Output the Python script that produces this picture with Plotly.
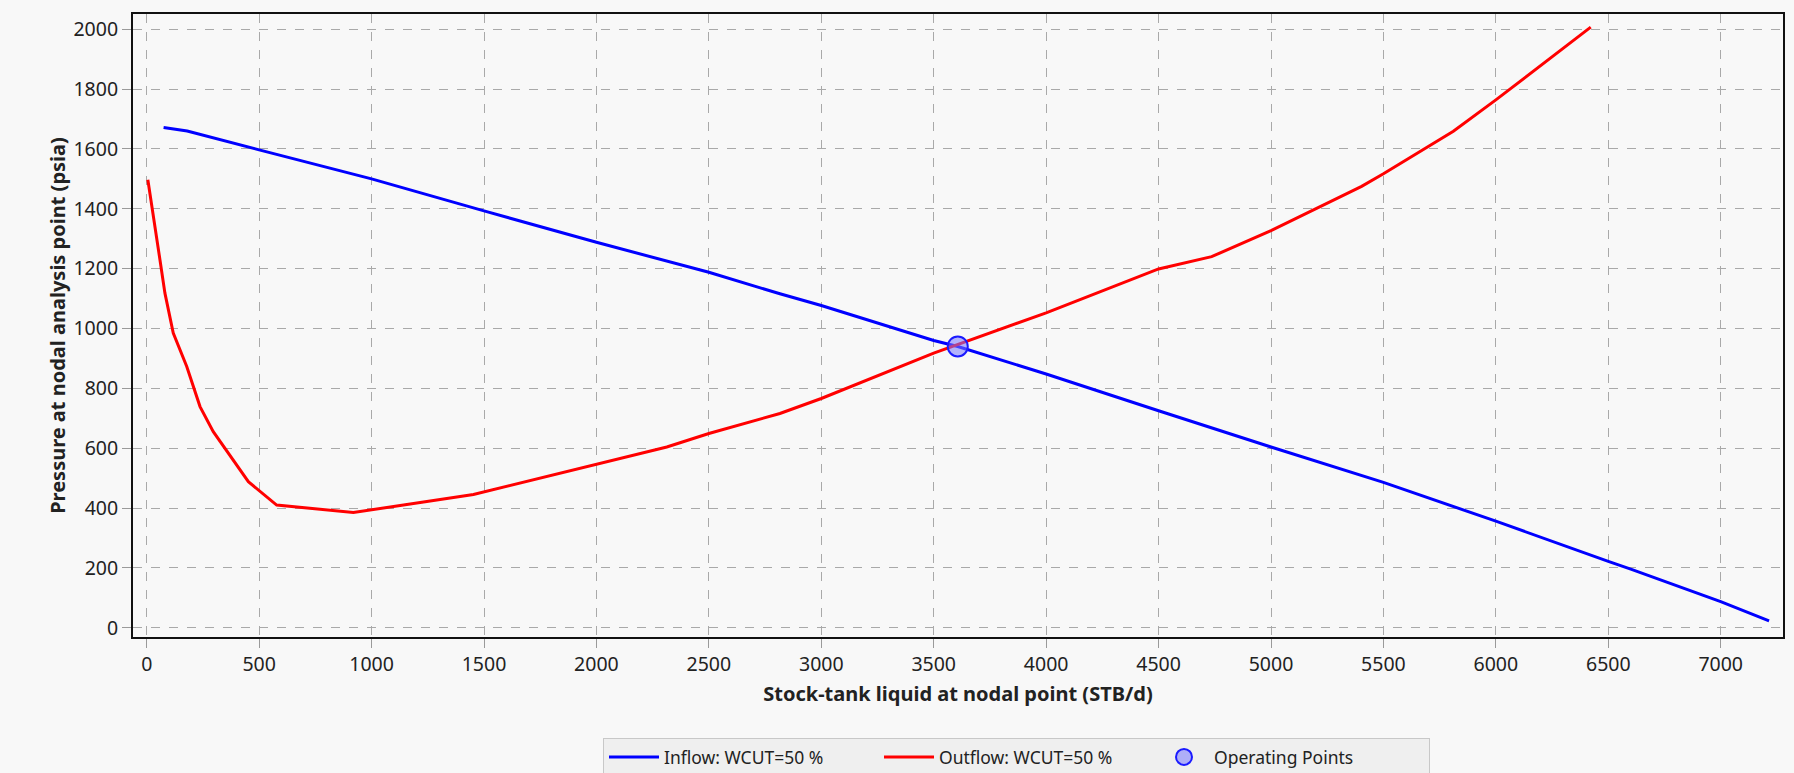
import plotly.graph_objects as go

# Inflow curve (blue)
inflow_q = [75, 180, 500, 1000, 1500, 2000, 2500, 2816, 3000, 3500, 3607, 4000, 4500, 5000, 5500, 6000, 6500, 6600, 7000, 7215]
inflow_p = [1672, 1660, 1597, 1500, 1393, 1288, 1188, 1116, 1077, 960, 940, 848, 725, 604, 486, 356, 222, 196, 87, 23]

# Outflow curve (red)
outflow_q = [5, 22, 59, 81, 118, 178, 237, 296, 452, 578, 919, 1453, 2000, 2313, 2500, 2816, 3000, 3500, 4000, 4500, 4736, 5000, 5403, 5500, 5811, 6000, 6422]
outflow_p = [1497, 1408, 1229, 1118, 985, 873, 739, 655, 488, 410, 385, 445, 545, 604, 649, 716, 766, 918, 1052, 1199, 1240, 1327, 1475, 1517, 1659, 1764, 2007]

# Operating point
op_q = [3607]
op_p = [940]

x_ticks = list(range(0, 7001, 500))
y_ticks = list(range(0, 2001, 200))

font_family = "Noto Sans, Open Sans, DejaVu Sans, sans-serif"

fig = go.Figure()
fig.add_trace(go.Scatter(x=inflow_q, y=inflow_p, mode="lines",
                         line=dict(color="#0000ff", width=3),
                         name="Inflow: WCUT=50 %"))
fig.add_trace(go.Scatter(x=outflow_q, y=outflow_p, mode="lines",
                         line=dict(color="#ff0000", width=3),
                         name="Outflow: WCUT=50 %"))
fig.add_trace(go.Scatter(x=op_q, y=op_p, mode="markers",
                         marker=dict(size=20, color="rgba(120,120,255,0.55)",
                                     line=dict(color="#1a1aff", width=2)),
                         name="Operating Points"))

axis_common = dict(
    showline=True, mirror=True, linecolor="#111111", linewidth=2,
    showgrid=True, gridcolor="#a9a9a9", gridwidth=1, griddash="dash",
    zeroline=False, ticks="outside", ticklen=9, tickcolor="#9a9a9a", tickwidth=1,
    tickfont=dict(family=font_family, size=19.5, color="#222222"),
    automargin=False,
)

fig.update_xaxes(range=[-61, 7277], tickvals=x_ticks,
                 title=dict(text="<b>Stock-tank liquid at nodal point (STB/d)</b>",
                            font=dict(family=font_family, size=20, color="#222222"),
                            standoff=11),
                 **axis_common)
fig.update_yaxes(range=[-31, 2051], tickvals=y_ticks,
                 title=dict(text="<b>Pressure at nodal analysis point (psia)</b>",
                            font=dict(family=font_family, size=20, color="#222222"),
                            standoff=2),
                 **axis_common)

fig.update_layout(
    width=1794, height=773,
    margin=dict(l=133, r=11, t=14, b=136),
    paper_bgcolor="#f8f8f8", plot_bgcolor="#f8f8f8",
    font=dict(family=font_family, size=17.5, color="#222222"),
    showlegend=True,
    legend=dict(orientation="h", xref="container", yref="container",
                x=603 / 1794, xanchor="left", y=1 - 738 / 773, yanchor="top",
                bgcolor="#efefef", bordercolor="#c8c8c8", borderwidth=1,
                font=dict(family=font_family, size=17.5, color="#222222"),
                itemwidth=50, entrywidth=210, entrywidthmode="pixels"),
)

fig.write_html(
    "out.html",
    config={"displayModeBar": False},
    post_script="document.body.style.margin='0';document.body.style.background='#f8f8f8';",
)
